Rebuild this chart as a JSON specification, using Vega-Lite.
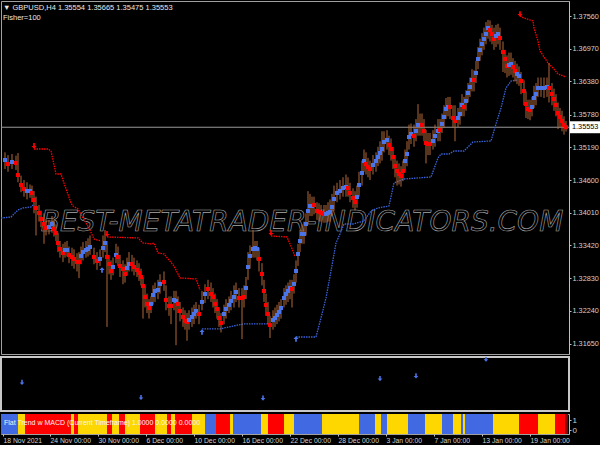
{
"$schema": "https://vega.github.io/schema/vega-lite/v6.json",
"background": "#000000",
"padding": 0,
"spacing": 3,
"bounds": "flush",
"resolve": {"scale": {"color": "independent", "shape": "independent"}},
"datasets": {
"bars": [
{"i":2,"c":1.34962,"h":1.351,"l":1.348,"d":"u"},
{"i":3.5,"c":1.3489,"h":1.3505,"l":1.3475,"d":"d"},
{"i":5.5,"c":1.34926,"h":1.3507,"l":1.348,"d":"u"},
{"i":7.5,"c":1.34908,"h":1.3504,"l":1.3478,"d":"d"},
{"i":8.5,"c":1.34691,"h":1.35088,"l":1.3456,"d":"d"},
{"i":10,"c":1.34511,"h":1.3468,"l":1.3438,"d":"d"},
{"i":11.5,"c":1.34439,"h":1.346,"l":1.343,"d":"d"},
{"i":13,"c":1.34403,"h":1.3456,"l":1.3425,"d":"u"},
{"i":14.5,"c":1.34403,"h":1.3452,"l":1.3428,"d":"u"},
{"i":15.5,"c":1.34367,"h":1.345,"l":1.342,"d":"d"},
{"i":16.5,"c":1.3424,"h":1.344,"l":1.34,"d":"d"},
{"i":17.5,"c":1.34096,"h":1.343,"l":1.336,"d":"d"},
{"i":19,"c":1.34006,"h":1.3415,"l":1.3385,"d":"d"},
{"i":20,"c":1.33897,"h":1.3405,"l":1.3375,"d":"d"},
{"i":21.5,"c":1.33807,"h":1.34,"l":1.3345,"d":"d"},
{"i":22.5,"c":1.33735,"h":1.339,"l":1.336,"d":"d"},
{"i":24,"c":1.33753,"h":1.3388,"l":1.3362,"d":"u"},
{"i":25.5,"c":1.33807,"h":1.3395,"l":1.3365,"d":"u"},
{"i":26.5,"c":1.33717,"h":1.3388,"l":1.3358,"d":"d"},
{"i":27.5,"c":1.33645,"h":1.338,"l":1.335,"d":"d"},
{"i":28.5,"c":1.33464,"h":1.3365,"l":1.333,"d":"d"},
{"i":29.5,"c":1.33356,"h":1.335,"l":1.332,"d":"d"},
{"i":31,"c":1.33284,"h":1.3345,"l":1.3312,"d":"d"},
{"i":32,"c":1.33338,"h":1.3348,"l":1.332,"d":"u"},
{"i":33,"c":1.33338,"h":1.335,"l":1.3322,"d":"u"},
{"i":34,"c":1.33248,"h":1.334,"l":1.331,"d":"d"},
{"i":35.5,"c":1.33212,"h":1.3338,"l":1.3305,"d":"d"},
{"i":36.5,"c":1.33176,"h":1.3335,"l":1.33,"d":"d"},
{"i":38,"c":1.33122,"h":1.3328,"l":1.3295,"d":"d"},
{"i":39,"c":1.33122,"h":1.333,"l":1.3283,"d":"d"},
{"i":40,"c":1.3323,"h":1.334,"l":1.3308,"d":"u"},
{"i":41,"c":1.33302,"h":1.3348,"l":1.3315,"d":"u"},
{"i":42.5,"c":1.33338,"h":1.335,"l":1.332,"d":"u"},
{"i":43.5,"c":1.33356,"h":1.3355,"l":1.3322,"d":"u"},
{"i":44.5,"c":1.33392,"h":1.336,"l":1.3325,"d":"u"},
{"i":46.5,"c":1.33212,"h":1.3338,"l":1.3308,"d":"d"},
{"i":48,"c":1.3314,"h":1.333,"l":1.3298,"d":"d"},
{"i":49.5,"c":1.33176,"h":1.3335,"l":1.3305,"d":"u"},
{"i":51,"c":1.33374,"h":1.336,"l":1.332,"d":"u"},
{"i":52,"c":1.33464,"h":1.337,"l":1.333,"d":"u"},
{"i":53,"c":1.33212,"h":1.335,"l":1.3195,"d":"d"},
{"i":54,"c":1.33085,"h":1.3325,"l":1.329,"d":"d"},
{"i":55,"c":1.32959,"h":1.3315,"l":1.328,"d":"d"},
{"i":56,"c":1.33031,"h":1.332,"l":1.3288,"d":"u"},
{"i":57.5,"c":1.33248,"h":1.3345,"l":1.331,"d":"u"},
{"i":58.5,"c":1.33212,"h":1.334,"l":1.3305,"d":"d"},
{"i":59.5,"c":1.33049,"h":1.3325,"l":1.3285,"d":"d"},
{"i":61,"c":1.32995,"h":1.3315,"l":1.3272,"d":"d"},
{"i":62,"c":1.32905,"h":1.3308,"l":1.3275,"d":"d"},
{"i":63,"c":1.33013,"h":1.332,"l":1.3288,"d":"u"},
{"i":64,"c":1.33085,"h":1.333,"l":1.3295,"d":"u"},
{"i":65.5,"c":1.33085,"h":1.3325,"l":1.3295,"d":"d"},
{"i":66.5,"c":1.33031,"h":1.332,"l":1.3288,"d":"d"},
{"i":68,"c":1.32977,"h":1.3315,"l":1.3285,"d":"d"},
{"i":69,"c":1.32923,"h":1.331,"l":1.3278,"d":"d"},
{"i":70,"c":1.32851,"h":1.33,"l":1.327,"d":"d"},
{"i":71,"c":1.32688,"h":1.3285,"l":1.321,"d":"d"},
{"i":72,"c":1.3249,"h":1.327,"l":1.323,"d":"d"},
{"i":73,"c":1.32364,"h":1.3255,"l":1.322,"d":"d"},
{"i":74,"c":1.32291,"h":1.3245,"l":1.321,"d":"d"},
{"i":75,"c":1.32364,"h":1.325,"l":1.322,"d":"u"},
{"i":76,"c":1.32526,"h":1.327,"l":1.3235,"d":"u"},
{"i":77,"c":1.32598,"h":1.3275,"l":1.324,"d":"u"},
{"i":78.5,"c":1.32616,"h":1.328,"l":1.3245,"d":"u"},
{"i":79.5,"c":1.32725,"h":1.329,"l":1.3255,"d":"u"},
{"i":81.5,"c":1.32761,"h":1.3295,"l":1.326,"d":"d"},
{"i":82.5,"c":1.32436,"h":1.327,"l":1.3225,"d":"d"},
{"i":84,"c":1.32328,"h":1.325,"l":1.3215,"d":"d"},
{"i":85,"c":1.32328,"h":1.325,"l":1.32,"d":"d"},
{"i":86.5,"c":1.32436,"h":1.326,"l":1.3225,"d":"u"},
{"i":87.5,"c":1.32418,"h":1.326,"l":1.3162,"d":"u"},
{"i":88.5,"c":1.32364,"h":1.325,"l":1.322,"d":"d"},
{"i":89.5,"c":1.32237,"h":1.324,"l":1.3205,"d":"d"},
{"i":91,"c":1.32129,"h":1.323,"l":1.3195,"d":"d"},
{"i":92,"c":1.32057,"h":1.3225,"l":1.319,"d":"d"},
{"i":93,"c":1.32039,"h":1.322,"l":1.317,"d":"d"},
{"i":94,"c":1.32075,"h":1.3225,"l":1.319,"d":"u"},
{"i":95.5,"c":1.32129,"h":1.323,"l":1.3195,"d":"u"},
{"i":96.5,"c":1.32183,"h":1.3235,"l":1.32,"d":"u"},
{"i":97.5,"c":1.32237,"h":1.324,"l":1.321,"d":"u"},
{"i":99,"c":1.32183,"h":1.3235,"l":1.32,"d":"d"},
{"i":100.5,"c":1.324,"h":1.326,"l":1.3225,"d":"u"},
{"i":102,"c":1.32544,"h":1.3272,"l":1.3238,"d":"u"},
{"i":103.5,"c":1.32634,"h":1.328,"l":1.3245,"d":"d"},
{"i":105,"c":1.32544,"h":1.3275,"l":1.324,"d":"d"},
{"i":106,"c":1.3249,"h":1.3265,"l":1.323,"d":"d"},
{"i":107,"c":1.32364,"h":1.3255,"l":1.322,"d":"d"},
{"i":108,"c":1.32273,"h":1.3245,"l":1.321,"d":"d"},
{"i":109,"c":1.32111,"h":1.323,"l":1.3195,"d":"d"},
{"i":110,"c":1.32021,"h":1.322,"l":1.3185,"d":"d"},
{"i":111.5,"c":1.32183,"h":1.3235,"l":1.32,"d":"u"},
{"i":112.5,"c":1.32273,"h":1.3245,"l":1.321,"d":"u"},
{"i":114,"c":1.32346,"h":1.325,"l":1.322,"d":"u"},
{"i":115,"c":1.32418,"h":1.326,"l":1.3225,"d":"u"},
{"i":116.5,"c":1.3249,"h":1.327,"l":1.323,"d":"u"},
{"i":117.5,"c":1.3258,"h":1.3275,"l":1.324,"d":"u"},
{"i":119,"c":1.32472,"h":1.3265,"l":1.323,"d":"d"},
{"i":120.5,"c":1.32472,"h":1.3265,"l":1.3173,"d":"d"},
{"i":121.5,"c":1.3249,"h":1.327,"l":1.323,"d":"d"},
{"i":122.5,"c":1.32652,"h":1.3285,"l":1.3245,"d":"u"},
{"i":123.5,"c":1.33031,"h":1.333,"l":1.328,"d":"u"},
{"i":124.5,"c":1.3323,"h":1.3342,"l":1.33,"d":"u"},
{"i":126,"c":1.33356,"h":1.337,"l":1.332,"d":"u"},
{"i":127,"c":1.33374,"h":1.335,"l":1.332,"d":"u"},
{"i":128,"c":1.33356,"h":1.335,"l":1.3315,"d":"u"},
{"i":129,"c":1.33176,"h":1.3338,"l":1.3295,"d":"d"},
{"i":130.5,"c":1.32905,"h":1.331,"l":1.327,"d":"d"},
{"i":131.5,"c":1.32598,"h":1.328,"l":1.324,"d":"d"},
{"i":132.5,"c":1.32346,"h":1.3255,"l":1.3215,"d":"d"},
{"i":133.5,"c":1.32183,"h":1.324,"l":1.32,"d":"d"},
{"i":134.5,"c":1.31985,"h":1.3215,"l":1.3175,"d":"d"},
{"i":136,"c":1.32075,"h":1.3225,"l":1.319,"d":"u"},
{"i":137,"c":1.32111,"h":1.323,"l":1.3195,"d":"u"},
{"i":138,"c":1.32165,"h":1.3235,"l":1.32,"d":"u"},
{"i":139,"c":1.32219,"h":1.324,"l":1.3205,"d":"u"},
{"i":140,"c":1.32291,"h":1.3245,"l":1.321,"d":"u"},
{"i":141.5,"c":1.32472,"h":1.3265,"l":1.323,"d":"u"},
{"i":142.5,"c":1.32544,"h":1.327,"l":1.3235,"d":"u"},
{"i":143.5,"c":1.32598,"h":1.3275,"l":1.324,"d":"u"},
{"i":144.5,"c":1.32652,"h":1.328,"l":1.3245,"d":"u"},
{"i":145.5,"c":1.32634,"h":1.328,"l":1.323,"d":"d"},
{"i":146.5,"c":1.32725,"h":1.329,"l":1.3255,"d":"u"},
{"i":147.5,"c":1.32959,"h":1.3315,"l":1.3275,"d":"u"},
{"i":148.5,"c":1.33266,"h":1.3345,"l":1.3305,"d":"u"},
{"i":149.5,"c":1.335,"h":1.337,"l":1.333,"d":"u"},
{"i":150.5,"c":1.33627,"h":1.338,"l":1.3345,"d":"u"},
{"i":151.5,"c":1.33627,"h":1.3385,"l":1.3345,"d":"u"},
{"i":152.5,"c":1.33807,"h":1.34,"l":1.336,"d":"u"},
{"i":153.5,"c":1.34042,"h":1.344,"l":1.3385,"d":"u"},
{"i":154.5,"c":1.34132,"h":1.3435,"l":1.3395,"d":"u"},
{"i":155.5,"c":1.34132,"h":1.343,"l":1.3395,"d":"u"},
{"i":156.5,"c":1.3415,"h":1.343,"l":1.3398,"d":"d"},
{"i":158,"c":1.34042,"h":1.342,"l":1.3388,"d":"d"},
{"i":159,"c":1.34024,"h":1.3418,"l":1.3385,"d":"d"},
{"i":160,"c":1.34006,"h":1.3415,"l":1.3385,"d":"d"},
{"i":161.5,"c":1.33988,"h":1.3415,"l":1.3383,"d":"d"},
{"i":162.5,"c":1.33988,"h":1.3415,"l":1.3383,"d":"u"},
{"i":163.5,"c":1.34006,"h":1.342,"l":1.3385,"d":"u"},
{"i":164.5,"c":1.34024,"h":1.3425,"l":1.3385,"d":"u"},
{"i":165.5,"c":1.34114,"h":1.3435,"l":1.3395,"d":"u"},
{"i":166.5,"c":1.34258,"h":1.345,"l":1.3405,"d":"u"},
{"i":168,"c":1.34367,"h":1.3455,"l":1.342,"d":"u"},
{"i":169.5,"c":1.34403,"h":1.346,"l":1.3425,"d":"u"},
{"i":171,"c":1.34457,"h":1.3465,"l":1.343,"d":"u"},
{"i":172.5,"c":1.34475,"h":1.347,"l":1.343,"d":"u"},
{"i":173.5,"c":1.34457,"h":1.3465,"l":1.343,"d":"d"},
{"i":174.5,"c":1.34367,"h":1.3455,"l":1.342,"d":"d"},
{"i":176,"c":1.34276,"h":1.3445,"l":1.341,"d":"d"},
{"i":177,"c":1.34204,"h":1.344,"l":1.3405,"d":"d"},
{"i":178,"c":1.34294,"h":1.345,"l":1.341,"d":"u"},
{"i":179,"c":1.34511,"h":1.3475,"l":1.343,"d":"u"},
{"i":180.5,"c":1.34727,"h":1.3495,"l":1.345,"d":"u"},
{"i":181.5,"c":1.34944,"h":1.3515,"l":1.3475,"d":"u"},
{"i":182.5,"c":1.3489,"h":1.351,"l":1.347,"d":"d"},
{"i":183.5,"c":1.34836,"h":1.35,"l":1.3465,"d":"d"},
{"i":184.5,"c":1.348,"h":1.3495,"l":1.346,"d":"d"},
{"i":186,"c":1.34872,"h":1.3505,"l":1.347,"d":"u"},
{"i":187.5,"c":1.34944,"h":1.351,"l":1.3475,"d":"u"},
{"i":188.5,"c":1.35016,"h":1.352,"l":1.3485,"d":"u"},
{"i":189.5,"c":1.35088,"h":1.353,"l":1.349,"d":"u"},
{"i":190.5,"c":1.3516,"h":1.3548,"l":1.3495,"d":"u"},
{"i":191.5,"c":1.35287,"h":1.3548,"l":1.351,"d":"u"},
{"i":193,"c":1.35323,"h":1.355,"l":1.3515,"d":"u"},
{"i":194,"c":1.35233,"h":1.354,"l":1.3505,"d":"d"},
{"i":195,"c":1.3516,"h":1.3535,"l":1.3495,"d":"d"},
{"i":196,"c":1.35016,"h":1.352,"l":1.348,"d":"d"},
{"i":197,"c":1.34854,"h":1.3505,"l":1.3465,"d":"d"},
{"i":198,"c":1.34764,"h":1.3495,"l":1.345,"d":"d"},
{"i":199,"c":1.34709,"h":1.349,"l":1.3452,"d":"d"},
{"i":200,"c":1.34673,"h":1.3485,"l":1.3448,"d":"d"},
{"i":201,"c":1.34764,"h":1.3495,"l":1.3458,"d":"d"},
{"i":202,"c":1.34944,"h":1.3515,"l":1.3475,"d":"u"},
{"i":203,"c":1.3507,"h":1.353,"l":1.3485,"d":"u"},
{"i":204,"c":1.35377,"h":1.356,"l":1.3515,"d":"u"},
{"i":205,"c":1.35431,"h":1.3562,"l":1.3525,"d":"u"},
{"i":206.5,"c":1.35395,"h":1.356,"l":1.352,"d":"d"},
{"i":207.5,"c":1.35485,"h":1.357,"l":1.353,"d":"u"},
{"i":208.5,"c":1.35594,"h":1.3597,"l":1.354,"d":"u"},
{"i":209.5,"c":1.35594,"h":1.358,"l":1.354,"d":"u"},
{"i":210.5,"c":1.35594,"h":1.358,"l":1.354,"d":"d"},
{"i":211.5,"c":1.35485,"h":1.357,"l":1.353,"d":"d"},
{"i":212.5,"c":1.35269,"h":1.355,"l":1.349,"d":"d"},
{"i":213.5,"c":1.35251,"h":1.3545,"l":1.3505,"d":"d"},
{"i":214.5,"c":1.35251,"h":1.3545,"l":1.3505,"d":"d"},
{"i":216,"c":1.35305,"h":1.355,"l":1.3515,"d":"u"},
{"i":217,"c":1.35395,"h":1.356,"l":1.352,"d":"u"},
{"i":218.5,"c":1.35485,"h":1.357,"l":1.353,"d":"u"},
{"i":219.5,"c":1.35503,"h":1.357,"l":1.353,"d":"d"},
{"i":220.5,"c":1.35612,"h":1.358,"l":1.3545,"d":"u"},
{"i":221.5,"c":1.35738,"h":1.3595,"l":1.3555,"d":"u"},
{"i":222.5,"c":1.35882,"h":1.3608,"l":1.357,"d":"u"},
{"i":223.5,"c":1.35918,"h":1.361,"l":1.3575,"d":"u"},
{"i":224.5,"c":1.35918,"h":1.361,"l":1.357,"d":"d"},
{"i":226,"c":1.3572,"h":1.3595,"l":1.3555,"d":"d"},
{"i":227,"c":1.35666,"h":1.3595,"l":1.353,"d":"d"},
{"i":228.5,"c":1.3572,"h":1.359,"l":1.3555,"d":"u"},
{"i":229.5,"c":1.35792,"h":1.36,"l":1.356,"d":"u"},
{"i":230.5,"c":1.35954,"h":1.3615,"l":1.3575,"d":"u"},
{"i":231.5,"c":1.35918,"h":1.361,"l":1.3575,"d":"d"},
{"i":232.5,"c":1.36027,"h":1.3622,"l":1.3585,"d":"u"},
{"i":233.5,"c":1.36171,"h":1.3635,"l":1.36,"d":"u"},
{"i":234.5,"c":1.36279,"h":1.3645,"l":1.361,"d":"u"},
{"i":235.5,"c":1.36406,"h":1.366,"l":1.362,"d":"u"},
{"i":236.5,"c":1.36406,"h":1.3658,"l":1.362,"d":"d"},
{"i":237.5,"c":1.36532,"h":1.3675,"l":1.3635,"d":"u"},
{"i":238.5,"c":1.36784,"h":1.37,"l":1.366,"d":"u"},
{"i":239.5,"c":1.36947,"h":1.3715,"l":1.3675,"d":"u"},
{"i":240.5,"c":1.37055,"h":1.3725,"l":1.3685,"d":"u"},
{"i":241.5,"c":1.37145,"h":1.3735,"l":1.3695,"d":"u"},
{"i":242.5,"c":1.37236,"h":1.3745,"l":1.3705,"d":"u"},
{"i":243.5,"c":1.37344,"h":1.3749,"l":1.3715,"d":"u"},
{"i":244.5,"c":1.37308,"h":1.3748,"l":1.371,"d":"d"},
{"i":245.5,"c":1.37236,"h":1.374,"l":1.3705,"d":"d"},
{"i":246.5,"c":1.37145,"h":1.3735,"l":1.3695,"d":"d"},
{"i":247.5,"c":1.37199,"h":1.374,"l":1.37,"d":"u"},
{"i":248.5,"c":1.37236,"h":1.3742,"l":1.3705,"d":"u"},
{"i":249.5,"c":1.37163,"h":1.3735,"l":1.3695,"d":"d"},
{"i":251,"c":1.36911,"h":1.371,"l":1.3655,"d":"d"},
{"i":252,"c":1.36784,"h":1.3695,"l":1.3653,"d":"d"},
{"i":253,"c":1.36658,"h":1.3685,"l":1.3645,"d":"d"},
{"i":254,"c":1.36676,"h":1.369,"l":1.3648,"d":"u"},
{"i":255,"c":1.36694,"h":1.369,"l":1.365,"d":"u"},
{"i":256,"c":1.3664,"h":1.368,"l":1.3645,"d":"d"},
{"i":257,"c":1.36568,"h":1.3675,"l":1.3638,"d":"d"},
{"i":258,"c":1.36514,"h":1.367,"l":1.3633,"d":"u"},
{"i":259,"c":1.36478,"h":1.3665,"l":1.363,"d":"u"},
{"i":260,"c":1.36387,"h":1.3655,"l":1.3615,"d":"d"},
{"i":261.5,"c":1.36207,"h":1.364,"l":1.3595,"d":"d"},
{"i":262.5,"c":1.35972,"h":1.362,"l":1.3572,"d":"d"},
{"i":263.5,"c":1.35882,"h":1.3605,"l":1.357,"d":"d"},
{"i":264.5,"c":1.35864,"h":1.3605,"l":1.3568,"d":"d"},
{"i":265.5,"c":1.35918,"h":1.361,"l":1.3575,"d":"u"},
{"i":266.5,"c":1.36081,"h":1.363,"l":1.359,"d":"u"},
{"i":267.5,"c":1.36153,"h":1.3635,"l":1.3595,"d":"u"},
{"i":268.5,"c":1.36261,"h":1.3645,"l":1.361,"d":"u"},
{"i":270,"c":1.36261,"h":1.3645,"l":1.361,"d":"u"},
{"i":271.5,"c":1.36261,"h":1.3645,"l":1.3608,"d":"u"},
{"i":273,"c":1.36279,"h":1.3645,"l":1.361,"d":"u"},
{"i":274,"c":1.36261,"h":1.36712,"l":1.36,"d":"d"},
{"i":275.5,"c":1.36153,"h":1.3635,"l":1.3595,"d":"d"},
{"i":276.5,"c":1.36063,"h":1.3625,"l":1.3585,"d":"d"},
{"i":277.5,"c":1.35954,"h":1.3615,"l":1.3575,"d":"d"},
{"i":278.5,"c":1.3581,"h":1.36,"l":1.3552,"d":"d"},
{"i":279.5,"c":1.35738,"h":1.359,"l":1.3555,"d":"d"},
{"i":280.5,"c":1.35666,"h":1.3585,"l":1.3548,"d":"d"},
{"i":281.5,"c":1.35594,"h":1.3575,"l":1.3542,"d":"d"},
{"i":282.5,"c":1.35553,"h":1.35665,"l":1.35475,"d":"d"}
],
"rstop": [
{"g":1,"i":16.5,"p":1.3516},{"g":1,"i":23.5,"p":1.3516},{"g":1,"i":25,"p":1.35124},{"g":1,"i":27.5,"p":1.34709},{"g":1,"i":30,"p":1.34709},{"g":1,"i":31.5,"p":1.34547},{"g":1,"i":35,"p":1.34186},{"g":1,"i":36,"p":1.34132},{"g":1,"i":38.5,"p":1.34078},{"g":1,"i":41,"p":1.33915},{"g":1,"i":44,"p":1.33735},{"g":1,"i":46.5,"p":1.33537},{"g":1,"i":50,"p":1.335},
{"g":2,"i":53,"p":1.33573},{"g":2,"i":68.5,"p":1.33555},{"g":2,"i":71,"p":1.33464},{"g":2,"i":75,"p":1.33447},{"g":2,"i":76.5,"p":1.33464},{"g":2,"i":78.5,"p":1.33284},{"g":2,"i":81.5,"p":1.33266},{"g":2,"i":86.5,"p":1.33049},{"g":2,"i":89.5,"p":1.32833},{"g":2,"i":97.5,"p":1.32815},{"g":2,"i":99.5,"p":1.32616},
{"g":3,"i":135,"p":1.33591},{"g":3,"i":143,"p":1.33573},{"g":3,"i":146,"p":1.3332},{"g":3,"i":147,"p":1.33212},
{"g":4,"i":259.5,"p":1.3756},{"g":4,"i":261.5,"p":1.37524},{"g":4,"i":266,"p":1.3747},{"g":4,"i":266.5,"p":1.37344},{"g":4,"i":268.5,"p":1.37109},{"g":4,"i":269.5,"p":1.36929},{"g":4,"i":273.5,"p":1.36712},{"g":4,"i":276,"p":1.36622},{"g":4,"i":278.5,"p":1.36514},{"g":4,"i":282.5,"p":1.3646}
],
"bstop": [
{"g":1,"i":0,"p":1.33915},{"g":1,"i":5,"p":1.33933},{"g":1,"i":8.5,"p":1.3406},{"g":1,"i":11,"p":1.34096},{"g":1,"i":15,"p":1.34114},{"g":1,"i":16,"p":1.3415},
{"g":2,"i":100.5,"p":1.31913},{"g":2,"i":110,"p":1.31913},{"g":2,"i":111.5,"p":1.31931},{"g":2,"i":114,"p":1.31949},{"g":2,"i":118.5,"p":1.31985},{"g":2,"i":121.5,"p":1.32003},{"g":2,"i":134,"p":1.32003},
{"g":3,"i":147.5,"p":1.31768},{"g":3,"i":157.5,"p":1.31768},{"g":3,"i":160,"p":1.32111},{"g":3,"i":162.5,"p":1.32472},{"g":3,"i":165,"p":1.32959},{"g":3,"i":167.5,"p":1.33464},{"g":3,"i":169.5,"p":1.33627},{"g":3,"i":171.5,"p":1.33807},{"g":3,"i":176,"p":1.33807},{"g":3,"i":181.5,"p":1.33861},{"g":3,"i":185,"p":1.34042},{"g":3,"i":188.5,"p":1.34096},{"g":3,"i":194,"p":1.34132},{"g":3,"i":196.5,"p":1.34547},{"g":3,"i":201.5,"p":1.34619},{"g":3,"i":215,"p":1.34655},{"g":3,"i":218.5,"p":1.34998},{"g":3,"i":220,"p":1.3507},{"g":3,"i":224,"p":1.3507},{"g":3,"i":226.5,"p":1.35124},{"g":3,"i":231.5,"p":1.35124},{"g":3,"i":236,"p":1.35287},{"g":3,"i":245,"p":1.35305},{"g":3,"i":247.5,"p":1.35612},{"g":3,"i":250,"p":1.359},{"g":3,"i":252.5,"p":1.36261},{"g":3,"i":255,"p":1.36387},{"g":3,"i":258.5,"p":1.36406}
],
"arrows": [
{"i":16.5,"p":1.35215,"d":"d"},{"i":53,"p":1.33627,"d":"d"},{"i":135,"p":1.33645,"d":"d"},{"i":259.5,"p":1.37596,"d":"d"},
{"i":50.5,"p":1.32977,"d":"u"},{"i":100.5,"p":1.31858,"d":"u"},{"i":147.5,"p":1.31732,"d":"u"}
],
"subarr": [
{"i":10.5,"v":0.53},{"i":70,"v":0.25},{"i":131,"v":0.24},{"i":189.5,"v":0.6},{"i":207.5,"v":0.65},{"i":242.5,"v":0.96}
],
"seg": [
{"a":0,"b":8.5,"k":"B"},{"a":8.5,"b":12,"k":"Y"},{"a":12,"b":35,"k":"R"},{"a":35,"b":36.5,"k":"Y"},{"a":36.5,"b":38.5,"k":"R"},{"a":38.5,"b":53,"k":"Y"},{"a":53,"b":55.5,"k":"R"},{"a":55.5,"b":59,"k":"Y"},{"a":59,"b":62,"k":"R"},{"a":62,"b":69.5,"k":"Y"},{"a":69.5,"b":77,"k":"R"},{"a":77,"b":83,"k":"Y"},{"a":83,"b":85,"k":"R"},{"a":85,"b":87,"k":"Y"},{"a":87,"b":95.5,"k":"R"},{"a":95.5,"b":102,"k":"Y"},{"a":102,"b":107.5,"k":"B"},{"a":107.5,"b":114.5,"k":"R"},{"a":114.5,"b":116,"k":"Y"},{"a":116,"b":130,"k":"B"},{"a":130,"b":133.5,"k":"Y"},{"a":133.5,"b":141.5,"k":"R"},{"a":141.5,"b":146.5,"k":"Y"},{"a":146.5,"b":160.5,"k":"B"},{"a":160.5,"b":179,"k":"Y"},{"a":179,"b":187,"k":"B"},{"a":187,"b":190,"k":"Y"},{"a":190,"b":193,"k":"B"},{"a":193,"b":203.5,"k":"Y"},{"a":203.5,"b":212,"k":"B"},{"a":212,"b":220.5,"k":"Y"},{"a":220.5,"b":226,"k":"B"},{"a":226,"b":230,"k":"Y"},{"a":230,"b":231,"k":"B"},{"a":231,"b":232,"k":"Y"},{"a":232,"b":246,"k":"B"},{"a":246,"b":259,"k":"Y"},{"a":259,"b":268.5,"k":"R"},{"a":268.5,"b":277,"k":"Y"},{"a":277,"b":282,"k":"R"},{"a":282,"b":283.5,"k":"M"}
],
"hdr": [
{"i":1,"p":1.37699,"t":"▼ GBPUSD,H4  1.35554 1.35665 1.35475 1.35553"},
{"i":1,"p":1.3753,"t":"Fisher=100"}
],
"wm": [
{"i":150.5,"p":1.33825,"t":"BEST-METATRADER-INDICATORS.COM"}
],
"last": [
{"x1":284.5,"x2":299.5,"p":1.35553,"y1":1.35661,"y2":1.35445,"tx":285.5,"t":"1.35553"}
]
},
"vconcat": [
{
"width": 568,
"height": 353,
"layer": [
{
"data": {"name": "wm"},
"mark": {"type": "text", "align": "center", "baseline": "middle", "font": "DejaVu Sans", "fontStyle": "italic", "fontSize": 28, "fill": "#000000", "stroke": "#a8a8a8", "strokeWidth": 0.6},
"encoding": {
"x": {"field": "i", "type": "quantitative", "scale": {"domain": [0, 284], "nice": false, "zero": false}, "axis": null},
"y": {"field": "p", "type": "quantitative", "scale": {"domain": [1.31461, 1.37831], "nice": false, "zero": false},
 "axis": {"orient": "right", "values": [1.3756, 1.3697, 1.3638, 1.3578, 1.3519, 1.346, 1.3401, 1.3342, 1.3283, 1.3224, 1.3165], "format": ".5f", "title": null}},
"text": {"field": "t"}
}
},
{
"data": {"name": "last"},
"mark": {"type": "rule", "color": "#9a9a9a", "strokeWidth": 1},
"encoding": {"y": {"field": "p", "type": "quantitative", "axis": {"orient": "right", "values": [1.3756, 1.3697, 1.3638, 1.3578, 1.3519, 1.346, 1.3401, 1.3342, 1.3283, 1.3224, 1.3165], "format": ".5f", "title": null}}}
},
{
"data": {"name": "rstop"},
"mark": {"type": "line", "color": "#ff0000", "strokeWidth": 1.3, "strokeDash": [1.5, 1], "clip": true},
"encoding": {
"x": {"field": "i", "type": "quantitative", "axis": null},
"y": {"field": "p", "type": "quantitative", "axis": {"orient": "right", "values": [1.3756, 1.3697, 1.3638, 1.3578, 1.3519, 1.346, 1.3401, 1.3342, 1.3283, 1.3224, 1.3165], "format": ".5f", "title": null}},
"detail": {"field": "g", "type": "nominal"}
}
},
{
"data": {"name": "bstop"},
"mark": {"type": "line", "color": "#3a62d8", "strokeWidth": 1.3, "strokeDash": [1.5, 1], "clip": true},
"encoding": {
"x": {"field": "i", "type": "quantitative", "axis": null},
"y": {"field": "p", "type": "quantitative", "axis": {"orient": "right", "values": [1.3756, 1.3697, 1.3638, 1.3578, 1.3519, 1.346, 1.3401, 1.3342, 1.3283, 1.3224, 1.3165], "format": ".5f", "title": null}},
"detail": {"field": "g", "type": "nominal"}
}
},
{
"data": {"name": "bars"},
"mark": {"type": "rule", "color": "#b0683a", "strokeWidth": 1, "clip": true},
"encoding": {
"x": {"field": "i", "type": "quantitative", "axis": null},
"y": {"field": "l", "type": "quantitative", "axis": {"orient": "right", "values": [1.3756, 1.3697, 1.3638, 1.3578, 1.3519, 1.346, 1.3401, 1.3342, 1.3283, 1.3224, 1.3165], "format": ".5f", "title": null}},
"y2": {"field": "h"}
}
},
{
"data": {"name": "bars"},
"mark": {"type": "point", "shape": "square", "filled": true, "opacity": 1, "size": 16, "clip": true},
"encoding": {
"x": {"field": "i", "type": "quantitative", "axis": null},
"y": {"field": "c", "type": "quantitative", "axis": {"orient": "right", "values": [1.3756, 1.3697, 1.3638, 1.3578, 1.3519, 1.346, 1.3401, 1.3342, 1.3283, 1.3224, 1.3165], "format": ".5f", "title": null}},
"color": {"field": "d", "type": "nominal", "scale": {"domain": ["u", "d"], "range": ["#4a74e8", "#ff0000"]}, "legend": null}
}
},
{
"data": {"name": "arrows"},
"mark": {"type": "point", "filled": true, "opacity": 1, "size": 130, "clip": true},
"encoding": {
"x": {"field": "i", "type": "quantitative", "axis": null},
"y": {"field": "p", "type": "quantitative", "axis": {"orient": "right", "values": [1.3756, 1.3697, 1.3638, 1.3578, 1.3519, 1.346, 1.3401, 1.3342, 1.3283, 1.3224, 1.3165], "format": ".5f", "title": null}},
"shape": {"field": "d", "type": "nominal", "scale": {"domain": ["u", "d"], "range": ["M-0.15,0.5L0.15,0.5L0.15,0L0.45,0L0,-0.5L-0.45,0L-0.15,0Z", "M-0.15,-0.5L0.15,-0.5L0.15,0L0.45,0L0,0.5L-0.45,0L-0.15,0Z"]}, "legend": null},
"color": {"field": "d", "type": "nominal", "scale": {"domain": ["u", "d"], "range": ["#4a74e8", "#ff0000"]}, "legend": null}
}
},
{
"data": {"name": "hdr"},
"mark": {"type": "text", "align": "left", "baseline": "middle", "font": "Liberation Sans", "fontSize": 7.5, "color": "#e8e8e8"},
"encoding": {
"x": {"field": "i", "type": "quantitative", "axis": null},
"y": {"field": "p", "type": "quantitative", "axis": {"orient": "right", "values": [1.3756, 1.3697, 1.3638, 1.3578, 1.3519, 1.346, 1.3401, 1.3342, 1.3283, 1.3224, 1.3165], "format": ".5f", "title": null}},
"text": {"field": "t"}
}
},
{
"data": {"name": "last"},
"mark": {"type": "rect", "color": "#ffffff"},
"encoding": {
"x": {"field": "x1", "type": "quantitative", "axis": null},
"x2": {"field": "x2"},
"y": {"field": "y1", "type": "quantitative", "axis": {"orient": "right", "values": [1.3756, 1.3697, 1.3638, 1.3578, 1.3519, 1.346, 1.3401, 1.3342, 1.3283, 1.3224, 1.3165], "format": ".5f", "title": null}},
"y2": {"field": "y2"}
}
},
{
"data": {"name": "last"},
"mark": {"type": "text", "align": "left", "baseline": "middle", "font": "Liberation Sans", "fontSize": 7.3, "color": "#000000"},
"encoding": {
"x": {"field": "tx", "type": "quantitative", "axis": null},
"y": {"field": "p", "type": "quantitative", "axis": {"orient": "right", "values": [1.3756, 1.3697, 1.3638, 1.3578, 1.3519, 1.346, 1.3401, 1.3342, 1.3283, 1.3224, 1.3165], "format": ".5f", "title": null}},
"text": {"field": "t"}
}
}
]
},
{
"width": 568,
"height": 54,
"view": {"stroke": "#c8c8c8", "strokeWidth": 2},
"data": {"name": "subarr"},
"mark": {"type": "point", "filled": true, "opacity": 1, "size": 110, "color": "#4a74e8", "clip": true, "shape": "M-0.15,-0.5L0.15,-0.5L0.15,0L0.45,0L0,0.5L-0.45,0L-0.15,0Z"},
"encoding": {
"x": {"field": "i", "type": "quantitative", "scale": {"domain": [0, 284], "nice": false, "zero": false}, "axis": null},
"y": {"field": "v", "type": "quantitative", "scale": {"domain": [0, 1], "nice": false, "zero": false}, "axis": null}
}
},
{
"width": 568,
"height": 20,
"layer": [
{
"data": {"name": "seg"},
"mark": {"type": "rect"},
"encoding": {
"x": {"field": "a", "type": "quantitative", "scale": {"domain": [0, 284], "nice": false, "zero": false},
 "axis": {"orient": "bottom", "title": null, "domain": false, "values": [1, 24.5, 48.5, 72.5, 96.5, 120.5, 144.5, 168.5, 192.5, 216.5, 240.5, 264.5],
  "labelExpr": "['18 Nov 2021','24 Nov 00:00','30 Nov 00:00','6 Dec 00:00','10 Dec 00:00','16 Dec 00:00','22 Dec 00:00','28 Dec 00:00','3 Jan 00:00','7 Jan 00:00','13 Jan 00:00','19 Jan 00:00'][indexof([1, 24.5, 48.5, 72.5, 96.5, 120.5, 144.5, 168.5, 192.5, 216.5, 240.5, 264.5], datum.value)]",
  "labelAlign": "left", "labelOverlap": false, "labelBound": false, "labelFlush": false, "labelPadding": 1, "labelFontSize": 6.8}},
"x2": {"field": "b"},
"color": {"field": "k", "type": "nominal", "scale": {"domain": ["B", "Y", "R", "M"], "range": ["#4169e1", "#ffd700", "#ff0000", "#8b0000"]}, "legend": null}
}
},
{
"data": {"values": [{"i": 1.5, "v": 0.73, "t": "Flat Trend w MACD (Current Timeframe) 1.0000 0.0000 0.0000"}]},
"mark": {"type": "text", "align": "left", "baseline": "middle", "font": "Liberation Sans", "fontSize": 7, "color": "#f4f4f4"},
"encoding": {
"x": {"field": "i", "type": "quantitative",
 "axis": {"orient": "bottom", "title": null, "domain": false, "values": [1, 24.5, 48.5, 72.5, 96.5, 120.5, 144.5, 168.5, 192.5, 216.5, 240.5, 264.5],
  "labelExpr": "['18 Nov 2021','24 Nov 00:00','30 Nov 00:00','6 Dec 00:00','10 Dec 00:00','16 Dec 00:00','22 Dec 00:00','28 Dec 00:00','3 Jan 00:00','7 Jan 00:00','13 Jan 00:00','19 Jan 00:00'][indexof([1, 24.5, 48.5, 72.5, 96.5, 120.5, 144.5, 168.5, 192.5, 216.5, 240.5, 264.5], datum.value)]",
  "labelAlign": "left", "labelOverlap": false, "labelBound": false, "labelFlush": false, "labelPadding": 1, "labelFontSize": 6.8}},
"y": {"field": "v", "type": "quantitative", "scale": {"domain": [-0.4, 1.6], "nice": false, "zero": false}, "axis": {"orient": "right", "values": [0, 1], "format": "d", "title": null, "labelFontSize": 8}},
"text": {"field": "t"}
}
}
]
}
],
"config": {
"view": {"stroke": "#a0a0a0", "strokeWidth": 1},
"axis": {"labelColor": "#d0d0d0", "labelFont": "Liberation Sans", "labelFontSize": 7.3, "tickColor": "#c0c0c0", "domainColor": "#c0c0c0", "grid": false, "tickSize": 2, "labelPadding": 1}
}
}
